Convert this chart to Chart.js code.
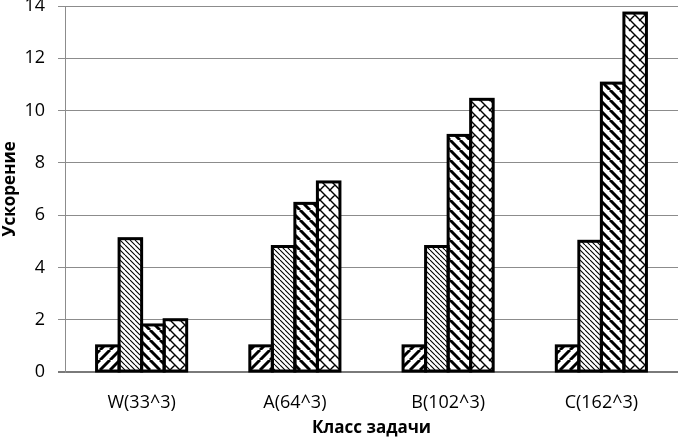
<!DOCTYPE html>
<html lang="ru">
<head>
    <meta charset="UTF-8">
    <title>Ускорение по классам задачи</title>
    <script src="https://cdn.jsdelivr.net/npm/chart.js"></script>
    <style>
        body { margin: 0; background: #fff; }
        .wrap { width: 679px; height: 441px; position: relative; }
    </style>
</head>
<body>
<div class="wrap">
    <canvas id="speedupChart"></canvas>
</div>

<script>
    const categories = ['W(33^3)', 'A(64^3)', 'B(102^3)', 'C(162^3)'];
    const series1 = [1, 1, 1, 1];
    const series2 = [5.1, 4.8, 4.8, 5.0];
    const series3 = [1.8, 6.45, 9.05, 11.05];
    const series4 = [2.0, 7.27, 10.43, 13.73];
    const yTicks = [0, 2, 4, 6, 8, 10, 12, 14];

    // hatch fills like the excel patterns
    function hatch(size, width, dir) {
        const c = document.createElement('canvas');
        c.width = size; c.height = size;
        const g = c.getContext('2d');
        g.fillStyle = '#fff';
        g.fillRect(0, 0, size, size);
        g.strokeStyle = '#000';
        g.lineWidth = width;
        g.beginPath();
        for (let k = -1; k <= 1; k++) {
            const o = k * size;
            if (dir === '/') {
                g.moveTo(o, size); g.lineTo(o + size, 0);
            } else {
                g.moveTo(o, 0); g.lineTo(o + size, size);
            }
        }
        g.stroke();
        return g.createPattern(c, 'repeat');
    }

    function trellis() {
        const s = 10;
        const c = document.createElement('canvas');
        c.width = s; c.height = s;
        const g = c.getContext('2d');
        g.fillStyle = '#fff';
        g.fillRect(0, 0, s, s);
        g.strokeStyle = '#000';
        g.lineWidth = 1.4;
        g.beginPath();
        for (let k = -1; k <= 1; k++) {
            g.moveTo(k * s, 0); g.lineTo(k * s + s, s);
        }
        g.moveTo(0, s); g.lineTo(s / 2, s / 2);
        g.moveTo(s - 1, 1); g.lineTo(s + 1, -1);
        g.stroke();
        return g.createPattern(c, 'repeat');
    }

    const fills = [hatch(10, 3, '/'), hatch(5, 1.1, '\\'), hatch(10, 3, '\\'), trellis()];
    const values = [series1, series2, series3, series4];

    const datasets = values.map((v, i) => ({
        label: 'Ряд ' + (i + 1),
        data: v,
        backgroundColor: fills[i],
        borderWidth: 0,
        categoryPercentage: 0.588,
        barPercentage: 1.0
    }));

    // excel-style outline: stroke centred on the bar edges, after all fills
    const outlines = {
        id: 'outlines',
        afterDatasetsDraw(chart) {
            const ctx = chart.ctx;
            ctx.save();
            ctx.strokeStyle = '#000';
            ctx.lineWidth = 3;
            ctx.lineJoin = 'miter';
            chart.data.datasets.forEach((ds, i) => {
                chart.getDatasetMeta(i).data.forEach(bar => {
                    const p = bar.getProps(['x', 'y', 'base', 'width'], true);
                    ctx.strokeRect(p.x - p.width / 2, p.y, p.width, p.base - p.y);
                });
            });
            ctx.restore();
        }
    };

    const font = 'Open Sans';

    new Chart(document.getElementById('speedupChart').getContext('2d'), {
        type: 'bar',
        data: { labels: categories, datasets: datasets },
        plugins: [outlines],
        options: {
            responsive: true,
            maintainAspectRatio: false,
            animation: false,
            layout: { padding: { left: 0, right: 1, top: 0, bottom: 0 } },
            plugins: {
                legend: { display: false },
                tooltip: { enabled: false }
            },
            scales: {
                x: {
                    grid: { display: false, drawTicks: false },
                    border: { display: false },
                    ticks: {
                        color: '#000',
                        padding: 20,
                        maxRotation: 0,
                        font: { family: font, size: 18 }
                    },
                    title: {
                        display: true,
                        text: 'Класс задачи',
                        color: '#000',
                        padding: { top: 0, bottom: 3 },
                        font: { family: font, size: 17, weight: 'bold' }
                    },
                    afterFit: s => { s.height = 69; s.paddingLeft = 0; s.paddingRight = 0; }
                },
                y: {
                    min: 0,
                    max: 14,
                    afterBuildTicks: s => { s.ticks = yTicks.map(v => ({ value: v })); },
                    grid: {
                        color: ctx => ctx.tick && ctx.tick.value === 0 ? '#7a7a7a' : '#8c8c8c',
                        lineWidth: ctx => ctx.tick && ctx.tick.value === 0 ? 2 : 1,
                        tickLength: 7
                    },
                    border: { display: true, color: '#8c8c8c', width: 1 },
                    ticks: {
                        color: '#000',
                        padding: 13,
                        font: { family: font, size: 18 }
                    },
                    title: {
                        display: true,
                        text: 'Ускорение',
                        color: '#000',
                        padding: { top: 0, bottom: 0 },
                        font: { family: font, size: 17, weight: 'bold' }
                    },
                    afterFit: s => { s.width = 65; s.paddingTop = 6; s.paddingBottom = 0; }
                }
            }
        }
    });
</script>
</body>
</html>
